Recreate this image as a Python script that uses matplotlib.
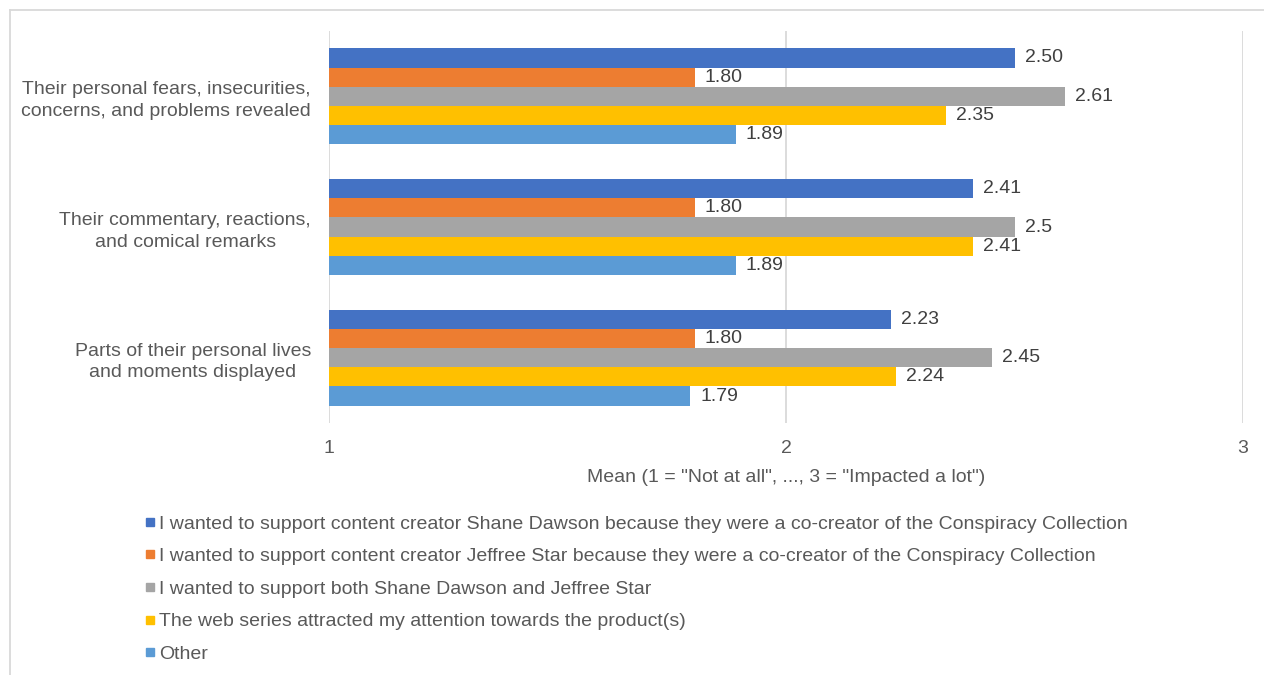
import matplotlib
matplotlib.use("Agg")
import matplotlib.pyplot as plt
from matplotlib.lines import Line2D
import numpy as np

plt.rcParams["font.family"] = ["Liberation Sans", "DejaVu Sans"]

categories = [
    "Their personal fears, insecurities,\nconcerns, and problems revealed",
    "Their commentary, reactions,\nand comical remarks",
    "Parts of their personal lives\nand moments displayed",
]
series = [
    "I wanted to support content creator Shane Dawson because they were a co-creator of the Conspiracy Collection",
    "I wanted to support content creator Jeffree Star because they were a co-creator of the Conspiracy Collection",
    "I wanted to support both Shane Dawson and Jeffree Star",
    "The web series attracted my attention towards the product(s)",
    "Other",
]
colors = ["#4472C4", "#ED7D31", "#A5A5A5", "#FFC000", "#5B9BD5"]

# value labels per series, one entry per category (top to bottom)
shane_dawson = ["2.50", "2.41", "2.23"]
jeffree_star = ["1.80", "1.80", "1.80"]
both = ["2.61", "2.5", "2.45"]
web_series = ["2.35", "2.41", "2.24"]
other = ["1.89", "1.89", "1.79"]
labels = [shane_dawson, jeffree_star, both, web_series, other]

xticks = [1, 2, 3]
xlabel = 'Mean (1 = "Not at all", ..., 3 = "Impacted a lot")'

TXT = "#595959"
FS = 14
W, H = 1264, 675
fig = plt.figure(figsize=(W / 100, H / 100), dpi=100)
ax = fig.add_axes([329 / W, 1 - 423 / H, (1243 - 329) / W, (423 - 31) / H])

h = 0.147
y = np.arange(len(categories))
for j, (lab, col) in enumerate(zip(labels, colors)):
    vals = np.array([float(s) for s in lab])
    pos = y + (j - 2) * h
    ax.barh(pos, vals - 1, left=1, height=h, color=col, zorder=2)
    for p, v, s in zip(pos, vals, lab):
        ax.text(v + 0.022, p, s, va="center", ha="left", fontsize=FS, color="#404040")

ax.set_xlim(1, 3)
ax.set_ylim(len(categories) - 0.5, -0.5)
ax.set_xticks(xticks)
ax.set_xticklabels([str(t) for t in xticks])
ax.set_yticks(y)
ax.set_yticklabels(categories, multialignment="center", linespacing=1.35)
ax.tick_params(length=0, labelsize=FS, labelcolor=TXT)
ax.tick_params(axis="x", pad=12)
ax.tick_params(axis="y", pad=13)
ax.grid(axis="x", color="#D9D9D9", linewidth=1.3, zorder=0)
for s in ax.spines.values():
    s.set_visible(False)
ax.set_xlabel(xlabel, fontsize=FS, color=TXT, labelpad=9)

handles = [Line2D([], [], marker="s", linestyle="none", markersize=5.5, color=c) for c in colors]
fig.legend(handles, series, loc="upper left", bbox_to_anchor=(146 / W, 1 - 515 / H),
           frameon=False, fontsize=FS, labelcolor=TXT, handlelength=0.45,
           handletextpad=0.2, labelspacing=0.77, borderpad=0, borderaxespad=0)

# outer chart border (cropped at right and bottom)
fig.add_artist(Line2D([10 / W, 10 / W], [0, 1 - 10 / H], color="#D9D9D9", linewidth=1.3))
fig.add_artist(Line2D([10 / W, 1], [1 - 10 / H, 1 - 10 / H], color="#D9D9D9", linewidth=1.3))

fig.savefig("out.png", dpi=100)
